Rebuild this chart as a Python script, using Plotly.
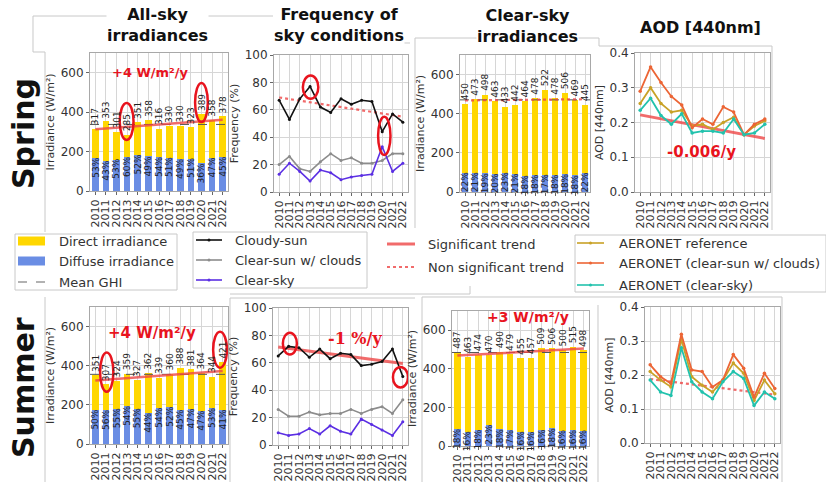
import plotly.graph_objects as go

W, H = 826, 482
years = list(range(2010, 2023))

# ---------------- Spring ----------------
spring_allsky_ghi = [317, 353, 301, 285, 351, 358, 316, 330, 330, 323, 389, 358, 378]
spring_allsky_diffuse_pct = [53, 43, 53, 60, 52, 49, 54, 51, 49, 51, 36, 47, 45]
spring_allsky_trend = [313, 361]

spring_cloudy_sun = [67, 53, 68, 77, 62, 58, 68, 64, 67, 66, 44, 57, 51]
spring_clear_sun_clouds = [20, 26, 17, 15, 22, 28, 23, 25, 21, 21, 23, 28, 28]
spring_clear_sky = [13, 21, 15, 8, 16, 14, 9, 11, 12, 13, 33, 15, 21]
spring_freq_trend = [69, 55]

spring_clearsky_ghi = [450, 473, 498, 463, 433, 442, 464, 478, 522, 478, 506, 469, 445]
spring_clearsky_diffuse_pct = [22, 21, 19, 20, 23, 21, 18, 18, 17, 18, 18, 18, 22]
spring_clearsky_trend = [468, 474]

spring_aod_reference = [0.255, 0.300, 0.255, 0.230, 0.235, 0.190, 0.195, 0.180, 0.200, 0.215, 0.165, 0.190, 0.205]
spring_aod_clear_sun_clouds = [0.290, 0.360, 0.315, 0.275, 0.250, 0.185, 0.210, 0.195, 0.245, 0.230, 0.165, 0.195, 0.210]
spring_aod_clear_sky = [0.235, 0.270, 0.220, 0.195, 0.225, 0.170, 0.175, 0.175, 0.170, 0.210, 0.165, 0.170, 0.195]
spring_aod_trend = [0.222, 0.154]

# ---------------- Summer ----------------
summer_allsky_ghi = [351, 307, 324, 359, 327, 362, 339, 360, 388, 381, 364, 344, 421]
summer_allsky_diffuse_pct = [50, 56, 55, 54, 55, 44, 54, 52, 45, 47, 47, 53, 41]
summer_allsky_trend = [325, 373]

summer_cloudy_sun = [65, 72, 71, 64, 70, 63, 67, 66, 58, 59, 61, 70, 50]
summer_clear_sun_clouds = [26, 21, 21, 24, 22, 23, 23, 26, 23, 26, 28, 23, 33]
summer_clear_sky = [9, 7, 8, 12, 8, 14, 10, 8, 19, 15, 11, 7, 17]
summer_freq_trend = [71.5, 59.5]

summer_clearsky_ghi = [487, 463, 474, 470, 490, 479, 455, 457, 509, 506, 500, 515, 498]
summer_clearsky_diffuse_pct = [18, 16, 18, 23, 18, 17, 16, 16, 16, 18, 16, 16, 16]
summer_clearsky_trend = [469, 505]

summer_aod_reference = [0.210, 0.185, 0.165, 0.305, 0.195, 0.170, 0.150, 0.185, 0.235, 0.205, 0.125, 0.185, 0.145]
summer_aod_clear_sun_clouds = [0.230, 0.195, 0.175, 0.320, 0.215, 0.210, 0.165, 0.185, 0.260, 0.220, 0.135, 0.205, 0.160]
summer_aod_clear_sky = [0.185, 0.150, 0.140, 0.280, 0.180, 0.150, 0.130, 0.180, 0.210, 0.190, 0.110, 0.150, 0.130]
summer_aod_trend = [0.188, 0.142]

FONT = "DejaVu Sans"
YELLOW = "#FFD700"
BLUE = "#6a8de4"
RED_TXT = "#e8141e"
TREND = "rgba(238,70,70,0.8)"
C_CLOUDY, C_CSC, C_CS = "#111111", "#8c8c8c", "#5b2fe3"
C_REF, C_AOD_CSC, C_AOD_CS = "#c9a227", "#ec6535", "#22c2ad"
FRAME = "#c8c8c8"


def px(x):
    return x / W


def py(y):
    return 1 - y / H


fig = go.Figure()
layout = dict(width=W, height=H, margin=dict(l=0, r=0, t=0, b=0),
              paper_bgcolor="white", plot_bgcolor="white",
              barmode="stack", showlegend=False,
              font=dict(family=FONT, color="#333"))
annotations = []
shapes = []

# panel boxes in pixels: (x0, x1, y_top, y_bottom)
panels = {
    1: (90, 228, 53, 191),
    2: (274, 408, 55, 192),
    3: (460, 590, 55, 192),
    4: (635, 770, 53, 192),
    5: (90, 228, 307, 444),
    6: (273, 408, 308, 445),
    7: (452, 589, 311, 446),
    8: (645, 780, 307, 443),
}


def ax_names(n):
    return ("x" if n == 1 else f"x{n}"), ("y" if n == 1 else f"y{n}")


def setup_axes(n, yrange, ytickvals, yticktext, ytitle):
    x0, x1, yt, yb = panels[n]
    xk = "xaxis" if n == 1 else f"xaxis{n}"
    yk = "yaxis" if n == 1 else f"yaxis{n}"
    xn, yn = ax_names(n)
    layout[xk] = dict(domain=[px(x0), px(x1)], anchor=yn, range=[2009.5, 2022.5],
                      tickmode="array", tickvals=years, ticktext=[str(v) for v in years],
                      tickangle=-90, showgrid=True, gridcolor="#d6d6d6", gridwidth=1,
                      showline=True, linecolor="#a8a8a8", mirror=True, zeroline=False,
                      ticks="outside", ticklen=3, tickcolor="#666",
                      tickfont=dict(size=11, color="#333"), automargin=False)
    layout[yk] = dict(domain=[py(yb), py(yt)], anchor=xn, range=yrange,
                      tickmode="array", tickvals=ytickvals, ticktext=yticktext,
                      showgrid=True, gridcolor="#d6d6d6", gridwidth=1,
                      showline=True, linecolor="#a8a8a8", mirror=True, zeroline=False,
                      ticks="outside", ticklen=3, tickcolor="#666",
                      tickfont=dict(size=12, color="#333"), automargin=False,
                      title=dict(text=ytitle, font=dict(size=11, color="#333"), standoff=3))


def irradiance_panel(n, ghi, pct, trend, dotted):
    xn, yn = ax_names(n)
    setup_axes(n, [0, 700], [0, 200, 400, 600], ["0", "200", "400", "600"],
               "Irradiance (W/m²)")
    diffuse = [g * p / 100 for g, p in zip(ghi, pct)]
    direct = [g - d for g, d in zip(ghi, diffuse)]
    fig.add_trace(go.Bar(x=years, y=diffuse, width=0.62, marker=dict(color=BLUE, line=dict(width=0)),
                         xaxis=xn, yaxis=yn))
    fig.add_trace(go.Bar(x=years, y=direct, width=0.62, marker=dict(color=YELLOW, line=dict(width=0)),
                         xaxis=xn, yaxis=yn))
    mean_ghi = sum(ghi) / len(ghi)
    fig.add_trace(go.Scatter(x=[2009.5, 2022.5], y=[mean_ghi, mean_ghi], mode="lines",
                             line=dict(color="#555", width=1, dash="dash"), xaxis=xn, yaxis=yn))
    fig.add_trace(go.Scatter(x=[2010, 2022], y=trend, mode="lines",
                             line=dict(color=TREND, width=2.5 if not dotted else 2.2,
                                       dash="dot" if dotted else "solid"),
                             xaxis=xn, yaxis=yn))
    for yr, g, d, p in zip(years, ghi, diffuse, pct):
        annotations.append(dict(x=yr, y=g + 6, xref=xn, yref=yn, text=str(g), textangle=-90,
                                showarrow=False, xanchor="center", yanchor="bottom",
                                font=dict(size=9, color="#222")))
        annotations.append(dict(x=yr, y=d + 12, xref=xn, yref=yn, text=f"{p}%", textangle=-90,
                                showarrow=False, xanchor="center", yanchor="top",
                                font=dict(size=9, color="#222")))


def freq_panel(n, cloudy, csc, cs, trend, dotted):
    xn, yn = ax_names(n)
    setup_axes(n, [0, 100], [0, 20, 40, 60, 80, 100], ["0", "20", "40", "60", "80", "100"],
               "Frequency (%)")
    fig.add_trace(go.Scatter(x=[2010, 2022], y=trend, mode="lines",
                             line=dict(color=TREND, width=3 if not dotted else 2.2,
                                       dash="dot" if dotted else "solid"),
                             xaxis=xn, yaxis=yn))
    for vals, col in ((cloudy, C_CLOUDY), (csc, C_CSC), (cs, C_CS)):
        fig.add_trace(go.Scatter(x=years, y=vals, mode="lines+markers",
                                 line=dict(color=col, width=1.6), marker=dict(size=3, color=col),
                                 xaxis=xn, yaxis=yn))


def aod_panel(n, ref, csc, cs, trend, dotted):
    xn, yn = ax_names(n)
    setup_axes(n, [0, 0.4], [0, 0.1, 0.2, 0.3, 0.4], ["0.0", "0.1", "0.2", "0.3", "0.4"],
               "AOD [440nm]")
    fig.add_trace(go.Scatter(x=[2010, 2022], y=trend, mode="lines",
                             line=dict(color=TREND, width=3 if not dotted else 2.2,
                                       dash="dot" if dotted else "solid"),
                             xaxis=xn, yaxis=yn))
    for vals, col in ((ref, C_REF), (csc, C_AOD_CSC), (cs, C_AOD_CS)):
        fig.add_trace(go.Scatter(x=years, y=vals, mode="lines+markers",
                                 line=dict(color=col, width=1.8), marker=dict(size=3.5, color=col),
                                 xaxis=xn, yaxis=yn))


irradiance_panel(1, spring_allsky_ghi, spring_allsky_diffuse_pct, spring_allsky_trend, False)
freq_panel(2, spring_cloudy_sun, spring_clear_sun_clouds, spring_clear_sky, spring_freq_trend, True)
irradiance_panel(3, spring_clearsky_ghi, spring_clearsky_diffuse_pct, spring_clearsky_trend, True)
aod_panel(4, spring_aod_reference, spring_aod_clear_sun_clouds, spring_aod_clear_sky, spring_aod_trend, False)

irradiance_panel(5, summer_allsky_ghi, summer_allsky_diffuse_pct, summer_allsky_trend, False)
freq_panel(6, summer_cloudy_sun, summer_clear_sun_clouds, summer_clear_sky, summer_freq_trend, False)
irradiance_panel(7, summer_clearsky_ghi, summer_clearsky_diffuse_pct, summer_clearsky_trend, False)
aod_panel(8, summer_aod_reference, summer_aod_clear_sun_clouds, summer_aod_clear_sky, summer_aod_trend, True)


# trend labels
def trend_label(n, x, y, text, size, family=FONT):
    xn, yn = ax_names(n)
    annotations.append(dict(x=x, y=y, xref=xn, yref=yn, text=f"<b>{text}</b>", showarrow=False,
                            font=dict(size=size, color=RED_TXT, family=family)))


trend_label(1, 2015.2, 600, "+4 W/m²/y", 13)
trend_label(4, 2015.9, 0.116, "-0.006/y", 15)
trend_label(5, 2015.3, 568, "+4 W/m²/y", 15)
trend_label(6, 2017.4, 78, "-1 %/y", 16, "DejaVu Serif")
trend_label(7, 2016.7, 667, "+3 W/m²/y", 14)


# highlighted years
def ellipse(n, x0, x1, y0, y1):
    xn, yn = ax_names(n)
    shapes.append(dict(type="circle", xref=xn, yref=yn, x0=x0, x1=x1, y0=y0, y1=y1,
                       line=dict(color=RED_TXT, width=2.5)))


ellipse(1, 2012.3, 2013.6, 259, 447)
ellipse(1, 2019.4, 2020.6, 350, 548)
ellipse(2, 2012.3, 2013.8, 68, 85)
ellipse(2, 2019.6, 2020.8, 27, 55)
ellipse(5, 2010.45, 2011.7, 267, 467)
ellipse(5, 2021.1, 2022.4, 390, 574)
ellipse(6, 2010.45, 2011.8, 66, 82)
ellipse(6, 2021.05, 2022.5, 42, 57)


# light panel frames
def pline(points):
    path = "M " + " L ".join(f"{px(a):.5f},{py(b):.5f}" for a, b in points)
    shapes.append(dict(type="path", xref="paper", yref="paper", path=path, layer="below",
                       line=dict(color=FRAME, width=1)))


pline([(33, 52), (33, 16), (273, 16)])
pline([(33, 52), (45, 52), (45, 232)])
pline([(275, 30), (275, 43), (410, 43)])
pline([(415, 228), (415, 38), (478, 38), (478, 22), (570, 22), (570, 38), (599, 38), (599, 46), (772, 46), (772, 230)])
pline([(45, 297), (45, 482)])
pline([(230, 482), (230, 298), (415, 298)])
pline([(422, 482), (422, 297), (782, 297), (782, 482)])
pline([(598, 305), (598, 482)])
pline([(230, 294), (470, 294), (470, 286)])

# column and row headings
for x, y, txt, size in ((157, 25, "All-sky<br>irradiances", 16),
                        (339, 25, "Frequency of<br>sky conditions", 16),
                        (527, 26, "Clear-sky<br>irradiances", 16),
                        (700, 27, "AOD [440nm]", 16)):
    annotations.append(dict(x=px(x), y=py(y), xref="paper", yref="paper", text=f"<b>{txt}</b>",
                            showarrow=False, xanchor="center", yanchor="middle",
                            bgcolor="white", borderpad=0,
                            font=dict(size=size, color="#111")))
for y, txt in ((134, "Spring"), (388, "Summer")):
    annotations.append(dict(x=px(23), y=py(y), xref="paper", yref="paper", text=f"<b>{txt}</b>",
                            textangle=-90, showarrow=False, xanchor="center", yanchor="middle",
                            font=dict(size=30, color="#111")))

# legend boxes
for x0, y0, x1, y1 in ((15, 234, 177, 290), (193, 232, 367, 288), (575, 235, 826, 292)):
    shapes.append(dict(type="rect", xref="paper", yref="paper", x0=px(x0), x1=px(x1),
                       y0=py(y1), y1=py(y0), line=dict(color=FRAME, width=1),
                       fillcolor="rgba(255,255,255,0.9)"))


def legend_text(x, y, txt):
    annotations.append(dict(x=px(x), y=py(y), xref="paper", yref="paper", text=txt,
                            showarrow=False, xanchor="left", yanchor="middle",
                            font=dict(size=13, color="#333")))


def legend_patch(y, color):
    shapes.append(dict(type="rect", xref="paper", yref="paper", x0=px(18), x1=px(45),
                       y0=py(y + 4.5), y1=py(y - 4.5), line=dict(width=0), fillcolor=color))


def legend_line(x0, x1, y, color, width=1.6, dash="solid", marker=True):
    shapes.append(dict(type="line", xref="paper", yref="paper", x0=px(x0), x1=px(x1),
                       y0=py(y), y1=py(y), line=dict(color=color, width=width, dash=dash)))
    if marker:
        xm = (x0 + x1) / 2
        shapes.append(dict(type="circle", xref="paper", yref="paper", x0=px(xm - 1.5),
                           x1=px(xm + 1.5), y0=py(y + 1.5), y1=py(y - 1.5),
                           line=dict(width=0), fillcolor=color))


legend_patch(241, YELLOW)
legend_text(57, 241, "Direct irradiance")
legend_patch(261, BLUE)
legend_text(57, 261, "Diffuse irradiance")
legend_line(18, 45, 282, "#666", width=1.2, dash="dash", marker=False)
legend_text(57, 282, "Mean GHI")

legend_line(196, 222, 240, C_CLOUDY)
legend_text(233, 240, "Cloudy-sun")
legend_line(196, 222, 260, C_CSC)
legend_text(233, 260, "Clear-sun w/ clouds")
legend_line(196, 222, 280, C_CS)
legend_text(233, 280, "Clear-sky")

legend_line(387, 415, 244, TREND, width=3, marker=False)
legend_text(426, 244, "Significant trend")
legend_line(387, 415, 267, TREND, width=2.2, dash="dot", marker=False)
legend_text(426, 267, "Non significant trend")

legend_line(577, 604, 243, C_REF)
legend_text(617, 243, "AERONET reference")
legend_line(577, 604, 263, C_AOD_CSC)
legend_text(617, 263, "AERONET (clear-sun w/ clouds)")
legend_line(577, 604, 285, C_AOD_CS)
legend_text(617, 285, "AERONET (clear-sky)")

layout["annotations"] = annotations
layout["shapes"] = shapes
fig.update_layout(**layout)
fig.write_html("out.html")
